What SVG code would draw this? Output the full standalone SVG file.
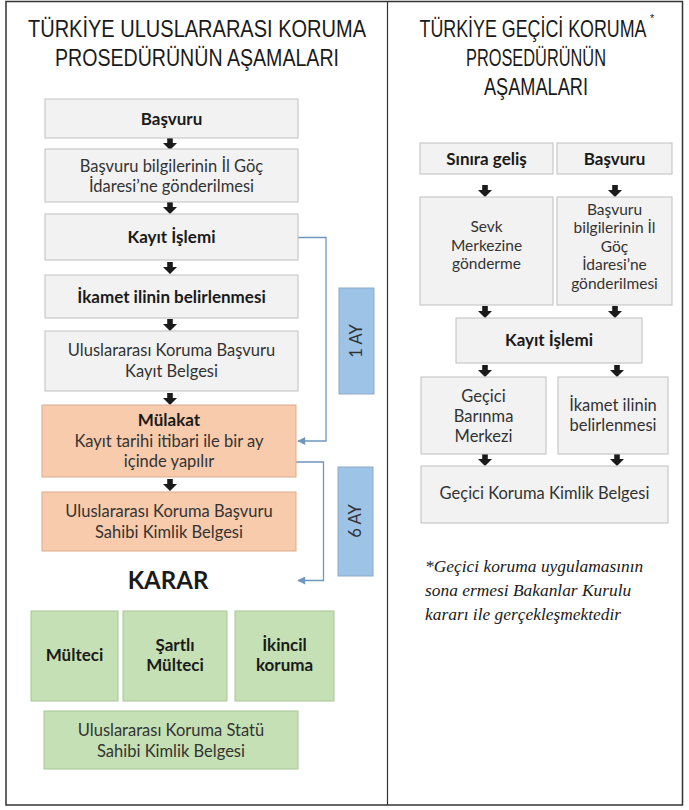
<svg xmlns="http://www.w3.org/2000/svg" xmlns:xlink="http://www.w3.org/1999/xlink" width="689" height="810" viewBox="0 0 689 810">
<style>
.title{font-family:"Liberation Sans",Arial,sans-serif;font-size:23px;fill:#1a1a1a;text-anchor:middle}
.t{font-family:Lato,"Liberation Sans",sans-serif;font-size:16.5px;fill:#333;text-anchor:middle}
.s{font-size:15.5px}
.b{font-family:Lato,"Liberation Sans",sans-serif;font-size:17px;font-weight:bold;fill:#1a1a1a;text-anchor:middle}
.gray{fill:#f2f2f2;stroke:#bfbfbf;stroke-width:1}
.orange{fill:#f8cbad;stroke:#d9ab8c;stroke-width:1}
.green{fill:#c5e0b4;stroke:#a8c596;stroke-width:1}
.blue{fill:#9dc3e6;stroke:#8fa9c4;stroke-width:1}
.conn{fill:none;stroke:#6f97bd;stroke-width:1.3}
.note{font-family:"Liberation Serif","Times New Roman",serif;font-style:italic;font-size:17.4px;fill:#1a1a1a}
</style>
<defs>
<path id="dn" d="M-2.8,0 H2.8 V5 H7 L0,12 L-7,5 H-2.8 Z" fill="#1a1a1a"/>
<marker id="ah" viewBox="0 0 10 10" refX="9" refY="5" markerWidth="9" markerHeight="8" markerUnits="userSpaceOnUse" orient="auto">
<path d="M0,0 L10,5 L0,10 Z" fill="#6f97bd"/>
</marker>
</defs>
<rect x="0" y="0" width="689" height="810" fill="#fff"/>
<rect x="6" y="1.5" width="676.5" height="803.5" fill="none" stroke="#333" stroke-width="1.5"/>
<line x1="387.5" y1="1.5" x2="387.5" y2="805" stroke="#333" stroke-width="1.2"/>

<g id="titles">
<text class="title" x="197" y="37" textLength="338" lengthAdjust="spacingAndGlyphs">TÜRKİYE ULUSLARARASI KORUMA</text>
<text class="title" x="197" y="66" textLength="284" lengthAdjust="spacingAndGlyphs">PROSEDÜRÜNÜN AŞAMALARI</text>
<text class="title" x="0" y="0" transform="translate(533,37) scale(0.776,1)">TÜRKİYE GEÇİCİ KORUMA</text>
<text x="650" y="22" font-family="Liberation Sans,sans-serif" font-size="11" fill="#1a1a1a">*</text>
<text class="title" x="536" y="66" textLength="140" lengthAdjust="spacingAndGlyphs">PROSEDÜRÜNÜN</text>
<text class="title" x="536" y="95" textLength="104" lengthAdjust="spacingAndGlyphs">AŞAMALARI</text>
</g>

<g id="connectors">
<use href="#dn" x="170" y="138"/>
<use href="#dn" x="170" y="202"/>
<use href="#dn" x="170" y="262"/>
<use href="#dn" x="170" y="319"/>
<use href="#dn" x="170" y="393"/>
<use href="#dn" x="170" y="479"/>
<path class="conn" d="M298,237.5 H326 V441 H298" marker-end="url(#ah)"/>
<path class="conn" d="M296,462 H323.5 V580.5 H298" marker-end="url(#ah)"/>
<use href="#dn" x="485" y="185"/>
<use href="#dn" x="615" y="185"/>
<use href="#dn" x="485" y="306"/>
<use href="#dn" x="615" y="306"/>
<use href="#dn" x="485" y="365"/>
<use href="#dn" x="617" y="365"/>
<use href="#dn" x="485" y="454"/>
<use href="#dn" x="617" y="454"/>
</g>

<g id="l-basvuru"><rect class="gray" x="45" y="99" width="253" height="39"/><text class="b" x="171.5" y="124.5">Başvuru</text></g>
<g id="l-bilgi"><rect class="gray" x="45" y="149" width="253" height="53"/><text class="t" x="171.5" y="172">Başvuru bilgilerinin İl Göç</text><text class="t" x="171.5" y="192">İdaresi’ne gönderilmesi</text></g>
<g id="l-kayit"><rect class="gray" x="45" y="214" width="253" height="46"/><text class="b" x="171.5" y="243">Kayıt İşlemi</text></g>
<g id="l-ikamet"><rect class="gray" x="45" y="275" width="253" height="43"/><text class="b" x="171.5" y="302.5">İkamet ilinin belirlenmesi</text></g>
<g id="l-belge"><rect class="gray" x="45" y="331" width="253" height="60"/><text class="t" x="171.5" y="356">Uluslararası Koruma Başvuru</text><text class="t" x="171.5" y="377">Kayıt Belgesi</text></g>
<g id="l-mulakat"><rect class="orange" x="42" y="405" width="254" height="72"/><text class="b" x="169" y="426">Mülakat</text><text class="t" x="169" y="447">Kayıt tarihi itibari ile bir ay</text><text class="t" x="169" y="467">içinde yapılır</text></g>
<g id="l-kimlik"><rect class="orange" x="42" y="492" width="254" height="59"/><text class="t" x="169" y="517">Uluslararası Koruma Başvuru</text><text class="t" x="169" y="538">Sahibi Kimlik Belgesi</text></g>
<g id="ay1"><rect class="blue" x="339" y="288" width="35" height="106"/><text class="t" x="0" y="0" transform="translate(362,341) rotate(-90)" fill="#222" font-size="17">1 AY</text></g>
<g id="ay6"><rect class="blue" x="338" y="467" width="35" height="109"/><text class="t" x="0" y="0" transform="translate(361,521) rotate(-90)" fill="#222" font-size="17">6 AY</text></g>
<g id="karar"><text x="168" y="589" font-family="Lato,'Liberation Sans',sans-serif" font-weight="bold" font-size="24" fill="#1a1a1a" text-anchor="middle">KARAR</text></g>
<g id="multeci"><rect class="green" x="31" y="611" width="87" height="90"/><text class="b" x="74.5" y="661">Mülteci</text></g>
<g id="sartli"><rect class="green" x="123" y="611" width="104" height="90"/><text class="b" x="175" y="651">Şartlı</text><text class="b" x="175" y="671">Mülteci</text></g>
<g id="ikincil"><rect class="green" x="235" y="611" width="99" height="90"/><text class="b" x="284.5" y="651">İkincil</text><text class="b" x="284.5" y="671">koruma</text></g>
<g id="statu"><rect class="green" x="44" y="711" width="254" height="58"/><text class="t" x="171" y="736">Uluslararası Koruma Statü</text><text class="t" x="171" y="757">Sahibi Kimlik Belgesi</text></g>

<g id="r-sinir"><rect class="gray" x="420" y="143" width="133" height="31"/><text class="b" x="486.5" y="164.5">Sınıra geliş</text></g>
<g id="r-basvuru"><rect class="gray" x="557" y="143" width="115" height="31"/><text class="b" x="614.5" y="164.5">Başvuru</text></g>
<g id="r-sevk"><rect class="gray" x="420" y="197" width="133" height="108"/><text class="t s" x="486.5" y="232">Sevk</text><text class="t s" x="486.5" y="250.6">Merkezine</text><text class="t s" x="486.5" y="269.2">gönderme</text></g>
<g id="r-bilgi"><rect class="gray" x="557" y="197" width="115" height="108"/><text class="t s" x="614.5" y="214.5">Başvuru</text><text class="t s" x="614.5" y="233.1">bilgilerinin İl</text><text class="t s" x="614.5" y="251.7">Göç</text><text class="t s" x="614.5" y="270.3">İdaresi’ne</text><text class="t s" x="614.5" y="288.9">gönderilmesi</text></g>
<g id="r-kayit"><rect class="gray" x="456" y="318" width="186" height="45"/><text class="b" x="549" y="346">Kayıt İşlemi</text></g>
<g id="r-barinma"><rect class="gray" x="421" y="377" width="125" height="77"/><text class="t" x="483.5" y="402">Geçici</text><text class="t" x="483.5" y="421.8">Barınma</text><text class="t" x="483.5" y="441.6">Merkezi</text></g>
<g id="r-ikamet"><rect class="gray" x="558" y="377" width="110" height="77"/><text class="t" x="613" y="411">İkamet ilinin</text><text class="t" x="613" y="431">belirlenmesi</text></g>
<g id="r-gkimlik"><rect class="gray" x="421" y="466" width="247" height="57"/><text class="t" x="544.5" y="499">Geçici Koruma Kimlik Belgesi</text></g>
<g id="note">
<text class="note" x="425" y="572">*Geçici koruma uygulamasının</text>
<text class="note" x="425" y="596">sona ermesi Bakanlar Kurulu</text>
<text class="note" x="425" y="620">kararı ile gerçekleşmektedir</text>
</g>
</svg>
